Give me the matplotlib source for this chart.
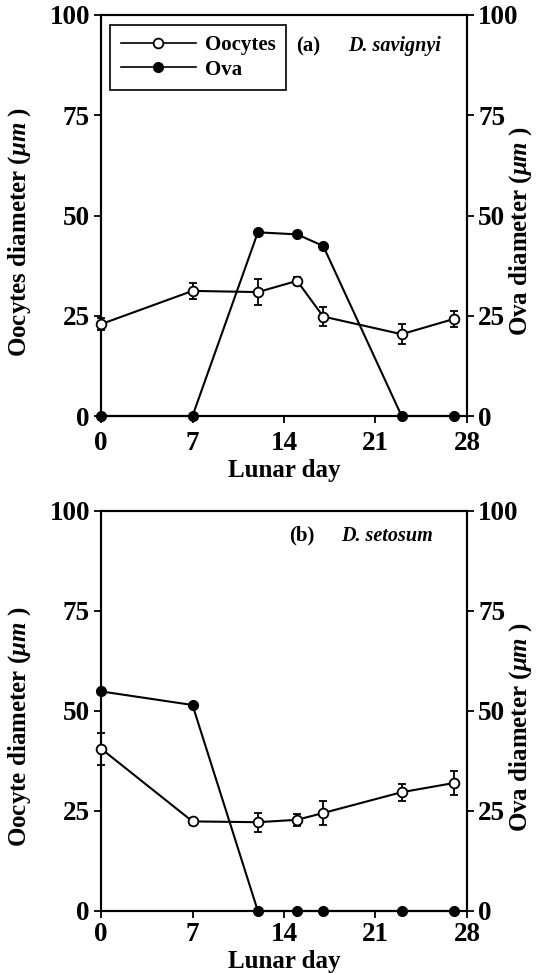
import matplotlib
matplotlib.use('Agg')
import matplotlib.pyplot as plt
from matplotlib.lines import Line2D

plt.rcParams['font.family'] = ['Liberation Serif', 'DejaVu Serif']
plt.rcParams['font.weight'] = 'bold'
plt.rcParams['mathtext.fontset'] = 'custom'
plt.rcParams['mathtext.it'] = 'Liberation Serif:italic:bold'
plt.rcParams['mathtext.rm'] = 'Liberation Serif:bold'
plt.rcParams['mathtext.default'] = 'it'

# lunar days sampled
days = [0, 7, 12, 15, 17, 23, 27]

# (a) D. savignyi
a_oocyte = [22.9, 31.2, 30.9, 33.7, 24.8, 20.4, 24.2]
a_oocyte_err = [1.5, 1.9, 3.3, 1.0, 2.4, 2.5, 2.1]
a_ova = [0, 0, 45.8, 45.3, 42.4, 0, 0]

# (b) D. setosum
b_oocyte = [40.6, 22.4, 22.2, 22.8, 24.5, 29.7, 32.0]
b_oocyte_err = [4.0, 0.8, 2.4, 1.5, 2.9, 2.1, 3.0]
b_ova = [54.9, 51.5, 0, 0, 0, 0, 0]

xticks = [0, 7, 14, 21, 28]
yticks = [0, 25, 50, 75, 100]

W, H = 539, 973
fig = plt.figure(figsize=(W / 100, H / 100), dpi=100)

left = 101 / W
width = 366 / W
lw = 1.5
fs = 18


def draw_panel(rect, oocyte, oocyte_err, ova, left_label, tag, species, legend, xpad):
    ax = fig.add_axes(rect)
    ax2 = ax.twinx()
    ax.set_zorder(ax2.get_zorder() + 1)
    ax.patch.set_visible(False)

    ax2.plot(days, ova, '-o', color='black', lw=lw, ms=7,
             mfc='black', mec='black', clip_on=False, zorder=3)
    ax.errorbar(days, oocyte, yerr=oocyte_err, fmt='-o', color='black',
                lw=lw, ms=7, mfc='white', mec='black', mew=1.3,
                capsize=3, elinewidth=1.3, capthick=1.3, clip_on=False, zorder=4)

    for a in (ax, ax2):
        a.set_xlim(0, 28)
        a.set_ylim(0, 100)
        a.set_yticks(yticks)
        a.tick_params(direction='out', length=5, width=1.3, labelsize=19.5, pad=3)
        for s in a.spines.values():
            s.set_linewidth(lw)
    ax.set_xticks(xticks)
    ax.tick_params(axis='x', pad=xpad)

    ax.set_xlabel('Lunar day', fontsize=fs, fontweight='bold', labelpad=2)
    ax.set_ylabel(left_label, fontsize=fs, fontweight='bold')
    ax2.set_ylabel(r'Ova diameter ($\mu m$ )', fontsize=fs, fontweight='bold')
    ax.yaxis.set_label_coords(-0.185, 0.46)
    ax2.yaxis.set_label_coords(1.11, 0.46)

    ax.text(tag[0], tag[1], tag[2], fontsize=15, fontweight='bold',
            ha='center', va='center')
    ax.text(species[0], species[1], species[2], fontsize=14.5,
            fontweight='bold', style='italic', ha='left', va='center')

    if legend:
        handles = [
            Line2D([], [], color='black', lw=1.2, marker='o', ms=7,
                   mfc='white', mec='black', mew=1.3),
            Line2D([], [], color='black', lw=1.2, marker='o', ms=7,
                   mfc='black', mec='black'),
        ]
        leg = ax.legend(handles, ['Oocytes', 'Ova'], loc='upper left',
                        bbox_to_anchor=(0.025, 0.975), borderaxespad=0,
                        fontsize=15, handlelength=3.6, handletextpad=0.45,
                        fancybox=False, framealpha=1, edgecolor='black',
                        borderpad=0.5, labelspacing=0.2)
        leg.get_frame().set_linewidth(1.2)
    return ax


# panel (a)
draw_panel([left, 1 - 416 / H, width, 401 / H], a_oocyte, a_oocyte_err, a_ova,
           r'Oocytes diameter ($\mu m$ )', (15.85, 92.2, '(a)'),
           (18.9, 92.2, 'D. savignyi'), True, 6)

# panel (b)
draw_panel([left, 1 - 911 / H, width, 400 / H], b_oocyte, b_oocyte_err, b_ova,
           r'Oocyte diameter ($\mu m$ )', (15.4, 93.8, '(b)'),
           (18.4, 93.8, 'D. setosum'), False, 3)

fig.savefig('out.png', dpi=100)
